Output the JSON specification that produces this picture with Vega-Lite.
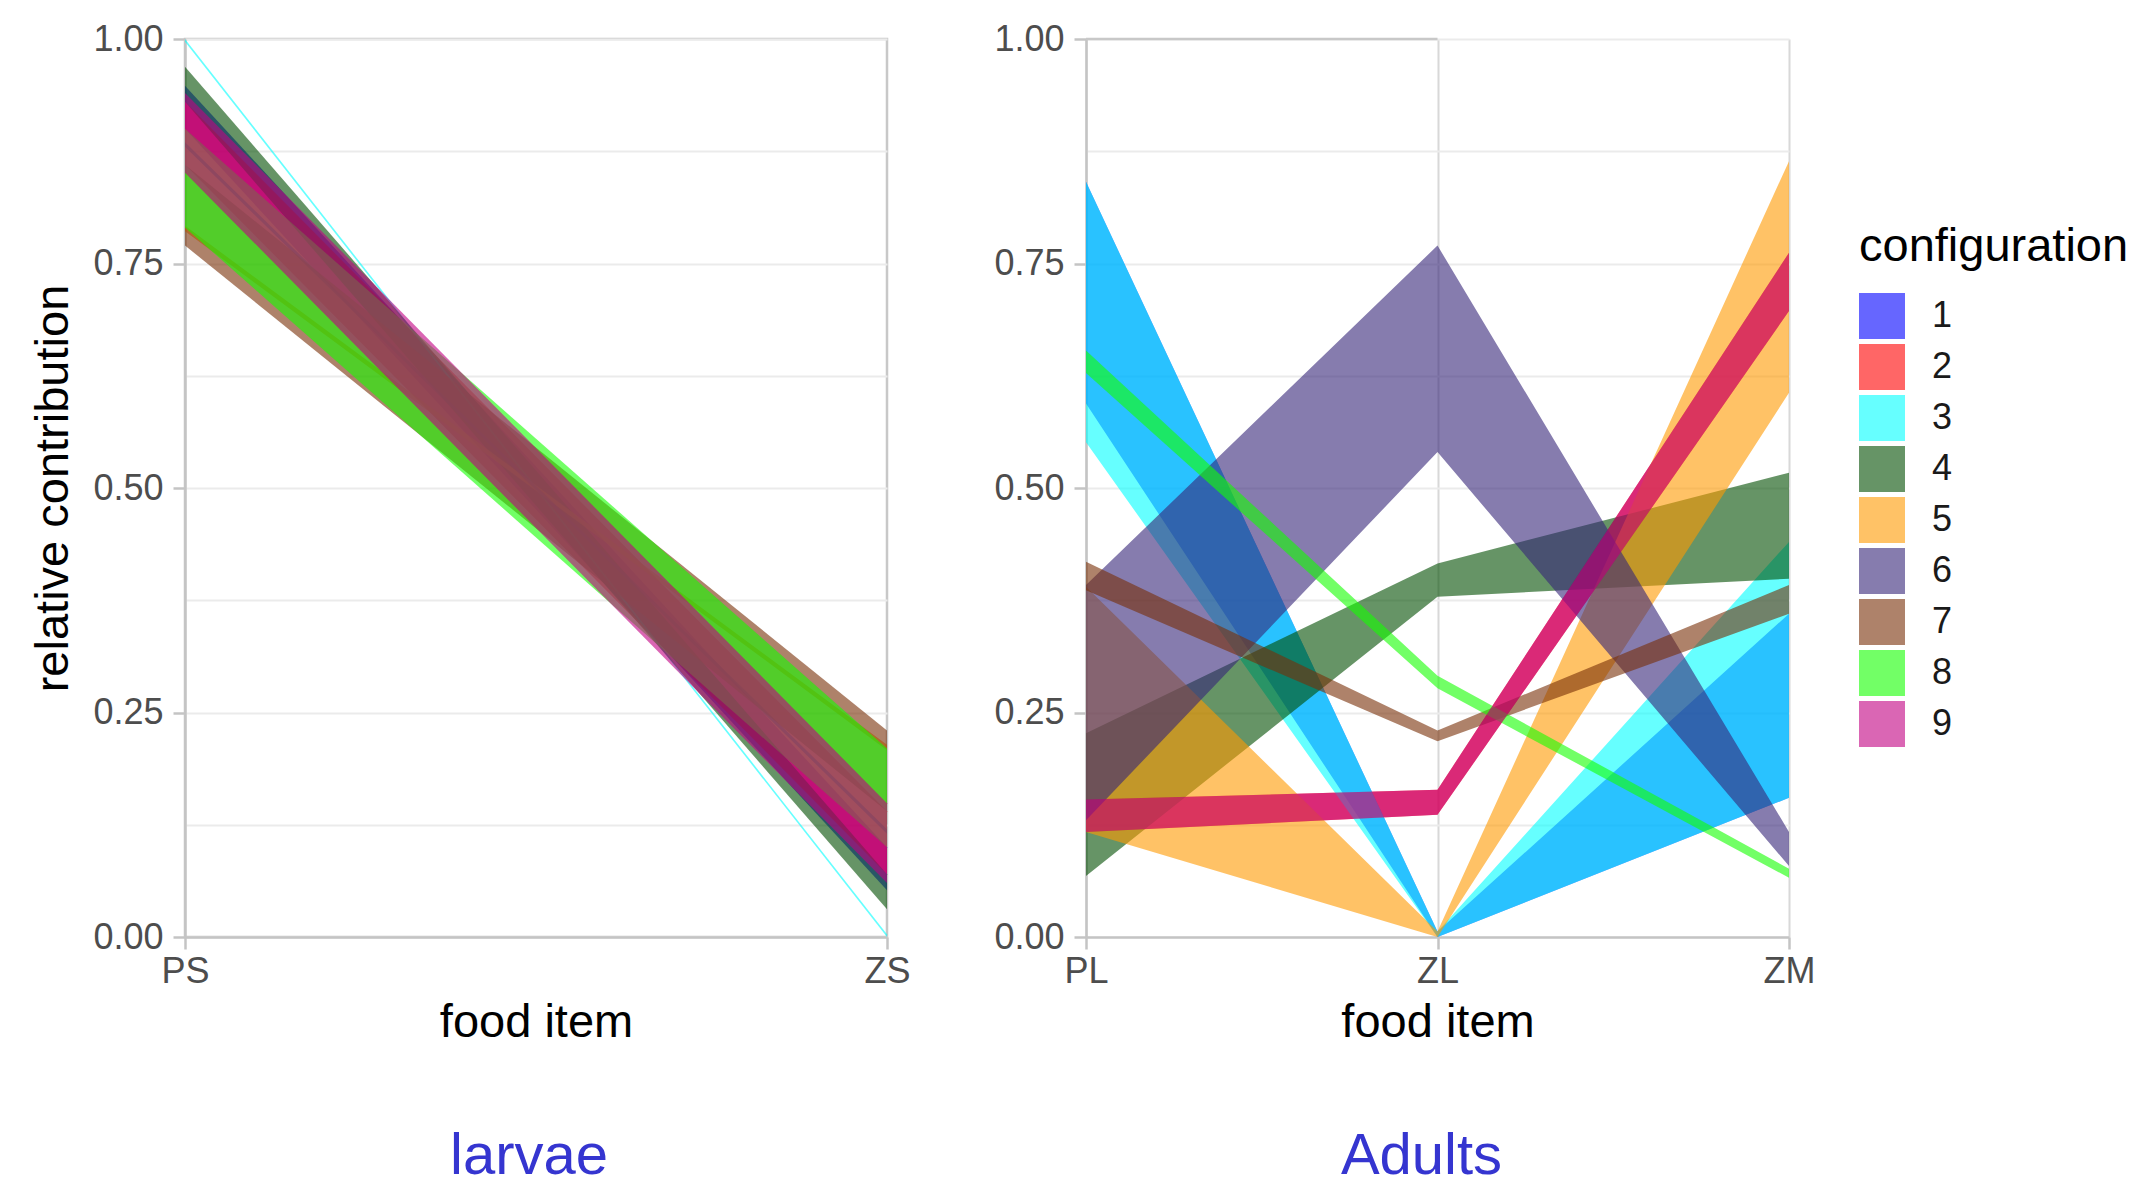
{
  "$schema": "https://vega.github.io/schema/vega-lite/v6.json",
  "background": "white",
  "padding": {"left": 28, "top": 19, "right": 0, "bottom": 0},
  "datasets": {
    "larvae": [
      {"config": "1", "item": "PS", "lo": 0.9, "hi": 0.948},
      {"config": "1", "item": "ZS", "lo": 0.052, "hi": 0.1},
      {"config": "2", "item": "PS", "lo": 0.86, "hi": 0.93},
      {"config": "2", "item": "ZS", "lo": 0.07, "hi": 0.14},
      {"config": "3", "item": "PS", "lo": 0.997, "hi": 1.0},
      {"config": "3", "item": "ZS", "lo": 0.0, "hi": 0.003},
      {"config": "4", "item": "PS", "lo": 0.93, "hi": 0.969},
      {"config": "4", "item": "ZS", "lo": 0.031, "hi": 0.07},
      {"config": "5", "item": "PS", "lo": 0.786, "hi": 0.792},
      {"config": "5", "item": "ZS", "lo": 0.208, "hi": 0.214},
      {"config": "6", "item": "PS", "lo": 0.88, "hi": 0.885},
      {"config": "6", "item": "ZS", "lo": 0.115, "hi": 0.12},
      {"config": "7", "item": "PS", "lo": 0.77, "hi": 0.86},
      {"config": "7", "item": "ZS", "lo": 0.14, "hi": 0.23},
      {"config": "8", "item": "PS", "lo": 0.79, "hi": 0.9},
      {"config": "8", "item": "ZS", "lo": 0.1, "hi": 0.21},
      {"config": "9", "item": "PS", "lo": 0.851, "hi": 0.94},
      {"config": "9", "item": "ZS", "lo": 0.06, "hi": 0.149}
    ],
    "adults": [
      {"config": "1", "item": "PL", "lo": 0.594, "hi": 0.841},
      {"config": "1", "item": "ZL", "lo": 0.0, "hi": 0.006},
      {"config": "1", "item": "ZM", "lo": 0.155, "hi": 0.36},
      {"config": "2", "item": "PL", "lo": 0.117, "hi": 0.153},
      {"config": "2", "item": "ZL", "lo": 0.136, "hi": 0.164},
      {"config": "2", "item": "ZM", "lo": 0.697, "hi": 0.762},
      {"config": "3", "item": "PL", "lo": 0.551, "hi": 0.841},
      {"config": "3", "item": "ZL", "lo": 0.0, "hi": 0.006},
      {"config": "3", "item": "ZM", "lo": 0.155, "hi": 0.44},
      {"config": "4", "item": "PL", "lo": 0.068, "hi": 0.227},
      {"config": "4", "item": "ZL", "lo": 0.379, "hi": 0.416},
      {"config": "4", "item": "ZM", "lo": 0.399, "hi": 0.517},
      {"config": "5", "item": "PL", "lo": 0.117, "hi": 0.39},
      {"config": "5", "item": "ZL", "lo": 0.0, "hi": 0.006},
      {"config": "5", "item": "ZM", "lo": 0.606, "hi": 0.864},
      {"config": "6", "item": "PL", "lo": 0.13, "hi": 0.392},
      {"config": "6", "item": "ZL", "lo": 0.54, "hi": 0.77},
      {"config": "6", "item": "ZM", "lo": 0.079, "hi": 0.117},
      {"config": "7", "item": "PL", "lo": 0.386, "hi": 0.418},
      {"config": "7", "item": "ZL", "lo": 0.218, "hi": 0.23},
      {"config": "7", "item": "ZM", "lo": 0.36, "hi": 0.392},
      {"config": "8", "item": "PL", "lo": 0.628, "hi": 0.653},
      {"config": "8", "item": "ZL", "lo": 0.277, "hi": 0.291},
      {"config": "8", "item": "ZM", "lo": 0.066, "hi": 0.076},
      {"config": "9", "item": "PL", "lo": 0.117, "hi": 0.153},
      {"config": "9", "item": "ZL", "lo": 0.136, "hi": 0.164},
      {"config": "9", "item": "ZM", "lo": 0.697, "hi": 0.762}
    ],
    "topline": [
      {"a": "PL", "b": "ZL", "v": 1}
    ]
  },
  "config": {
    "font": "Liberation Sans",
    "axis": {
      "labelFont": "Liberation Sans",
      "labelFontSize": 36,
      "labelColor": "#4D4D4D",
      "titleFont": "Liberation Sans",
      "titleFontSize": 47,
      "titleFontWeight": "normal",
      "titleColor": "#000000",
      "domainColor": "#C4C4C4",
      "domainWidth": 2.5,
      "tickColor": "#C4C4C4",
      "tickWidth": 2.5,
      "tickSize": 12,
      "gridColor": "#EBEBEB",
      "gridWidth": 2
    },
    "legend": {
      "titleFont": "Liberation Sans",
      "labelFont": "Liberation Sans",
      "titleFontSize": 47,
      "titleFontWeight": "normal",
      "titleColor": "#000000",
      "titleLimit": 500,
      "labelFontSize": 36,
      "labelColor": "#1A1A1A",
      "symbolType": "square",
      "symbolSize": 2116,
      "symbolStrokeWidth": 0,
      "symbolOpacity": 0.6,
      "rowPadding": 5,
      "titlePadding": 22,
      "labelOffset": 27
    },
    "title": {"font": "Liberation Sans"}
  },
  "spacing": 81,
  "resolve": {"scale": {"color": "shared"}},
  "hconcat": [
    {
      "width": 702,
      "height": 898,
      "view": {"stroke": "#C8C8C8", "strokeWidth": 2.5},
      "title": {"text": "larvae", "orient": "bottom", "frame": "group", "anchor": "middle", "dx": -7, "offset": 83, "fontSize": 58, "fontWeight": "normal", "color": "#3535D0"},
      "data": {"name": "larvae"},
      "mark": {"type": "area", "opacity": 0.6},
      "encoding": {
        "x": {"field": "item", "type": "nominal", "scale": {"type": "point", "padding": 0, "domain": ["PS", "ZS"]}, "axis": {"title": "food item", "labelAngle": 0, "grid": false, "labelPadding": 5, "titlePadding": 10}},
        "y": {"field": "lo", "type": "quantitative", "scale": {"domain": [0, 1], "nice": false},
          "axis": {"title": "relative contribution", "values": [0, 0.125, 0.25, 0.375, 0.5, 0.625, 0.75, 0.875, 1], "labelOverlap": false,
            "labelExpr": "(datum.value*4) % 1 == 0 ? format(datum.value, '.2f') : ''",
            "tickOpacity": {"condition": {"test": "(datum.value*4) % 1 == 0", "value": 1}, "value": 0},
            "labelPadding": 10, "titlePadding": 15}},
        "y2": {"field": "hi"},
        "color": {"field": "config", "type": "nominal", "title": "configuration",
          "scale": {"domain": ["1", "2", "3", "4", "5", "6", "7", "8", "9"], "range": ["#0000FF", "#FF0000", "#00FFFF", "#004D00", "#FF9900", "#352578", "#782F07", "#14FF00", "#C10082"]},
          "legend": {"orient": "none", "legendX": 1674, "legendY": 185}}
      }
    },
    {
      "width": 703,
      "height": 898,
      "view": {"stroke": null},
      "title": {"text": "Adults", "orient": "bottom", "frame": "group", "anchor": "middle", "dx": -16, "offset": 83, "fontSize": 58, "fontWeight": "normal", "color": "#3535D0"},
      "layer": [
        {
          "data": {"name": "adults"},
          "mark": {"type": "area", "opacity": 0.6},
          "encoding": {
            "x": {"field": "item", "type": "nominal", "scale": {"type": "point", "padding": 0, "domain": ["PL", "ZL", "ZM"]}, "axis": {"title": "food item", "labelAngle": 0, "grid": true, "gridColor": "#D8D8D8", "labelPadding": 5, "titlePadding": 10}},
            "y": {"field": "lo", "type": "quantitative", "scale": {"domain": [0, 1], "nice": false},
              "axis": {"title": null, "values": [0, 0.125, 0.25, 0.375, 0.5, 0.625, 0.75, 0.875, 1], "labelOverlap": false,
                "labelExpr": "(datum.value*4) % 1 == 0 ? format(datum.value, '.2f') : ''",
                "tickOpacity": {"condition": {"test": "(datum.value*4) % 1 == 0", "value": 1}, "value": 0},
                "labelPadding": 10}},
            "y2": {"field": "hi"},
            "color": {"field": "config", "type": "nominal", "title": "configuration"}
          }
        },
        {
          "data": {"name": "topline"},
          "mark": {"type": "rule", "color": "#C8C8C8", "strokeWidth": 2.5},
          "encoding": {
            "x": {"field": "a", "type": "nominal"},
            "x2": {"field": "b"},
            "y": {"field": "v", "type": "quantitative"}
          }
        }
      ]
    }
  ]
}
